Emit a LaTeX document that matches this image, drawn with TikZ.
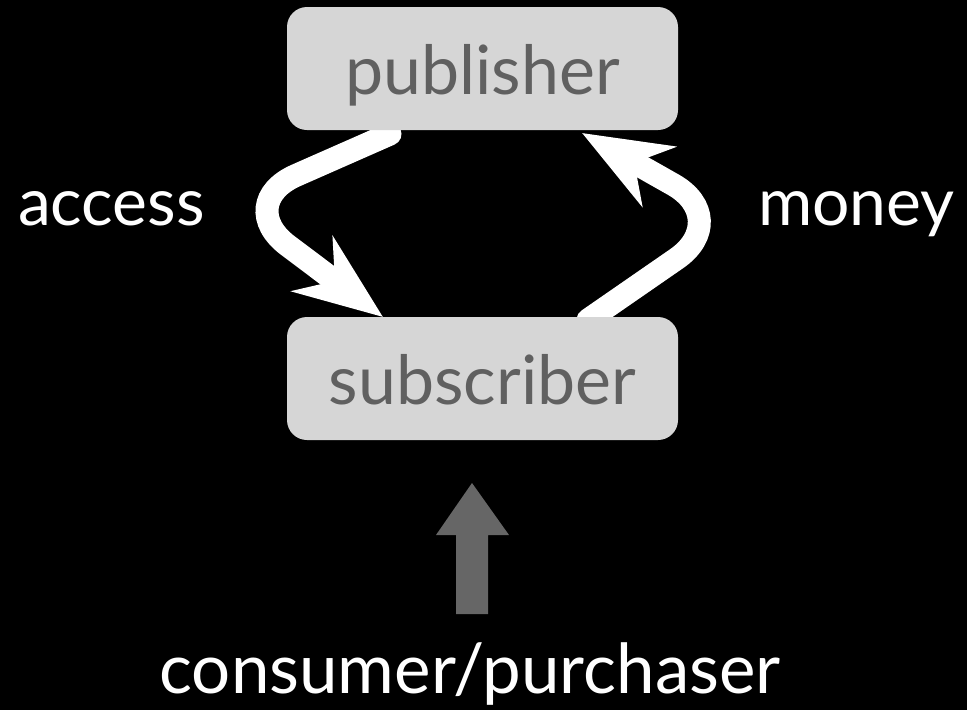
\documentclass[tikz,border=0pt]{standalone}
\usepackage{fontspec}
\setmainfont{Lato}
\usetikzlibrary{arrows.meta,calc}
\definecolor{boxfill}{HTML}{D6D6D6}
\definecolor{boxtext}{HTML}{606060}
\definecolor{upgray}{HTML}{666666}
\tikzset{
  rolebox/.style={fill=boxfill, draw=none, rounded corners=20pt, minimum width=391pt, minimum height=123pt,
    inner sep=0pt, text=boxtext, text height=52pt, text depth=0pt, font=\fontsize{68}{72}\selectfont},
  flowlabel/.style={anchor=base, text=white, inner sep=0pt, font=\fontsize{66}{70}\selectfont},
  flow/.style={draw=white, line width=23pt, line cap=round, rounded corners=70pt,
    -{Stealth[length=88pt,width=68pt,inset=28pt]}},
}
\begin{document}
\begin{tikzpicture}[x=1pt,y=-1pt]
\fill[black] (0,0) rectangle (967,710);
\useasboundingbox (0,0) rectangle (967,710);
% arrows first, so boxes cover their tails
\coordinate (acc0) at (390,134);
\coordinate (accV) at (232,203.6);
\coordinate (acc1) at (383,317);
\coordinate (mon0) at (588,320);
\coordinate (monV) at (734,219);
\coordinate (mon1) at (582,133);
\draw[flow] (acc0) -- (accV) -- (acc1);
\draw[flow] (mon0) -- (monV) -- (mon1);
\node[rolebox] (pub) at (482.5,68.5) {publisher};
\node[rolebox] (sub) at (482.5,378.5) {subscriber};
\node[flowlabel] (access) at (111.5,225) {access};
\node[flowlabel] (money) at (856.5,225) {money};
\node[flowlabel, font=\fontsize{69}{73}\selectfont] (consumer) at (470,693) {consumer/purchaser};
\fill[upgray] (456,614) -- (456,535) -- (436,535) -- (472,483) -- (509,535) -- (488,535) -- (488,614) -- cycle;
\end{tikzpicture}
\end{document}
